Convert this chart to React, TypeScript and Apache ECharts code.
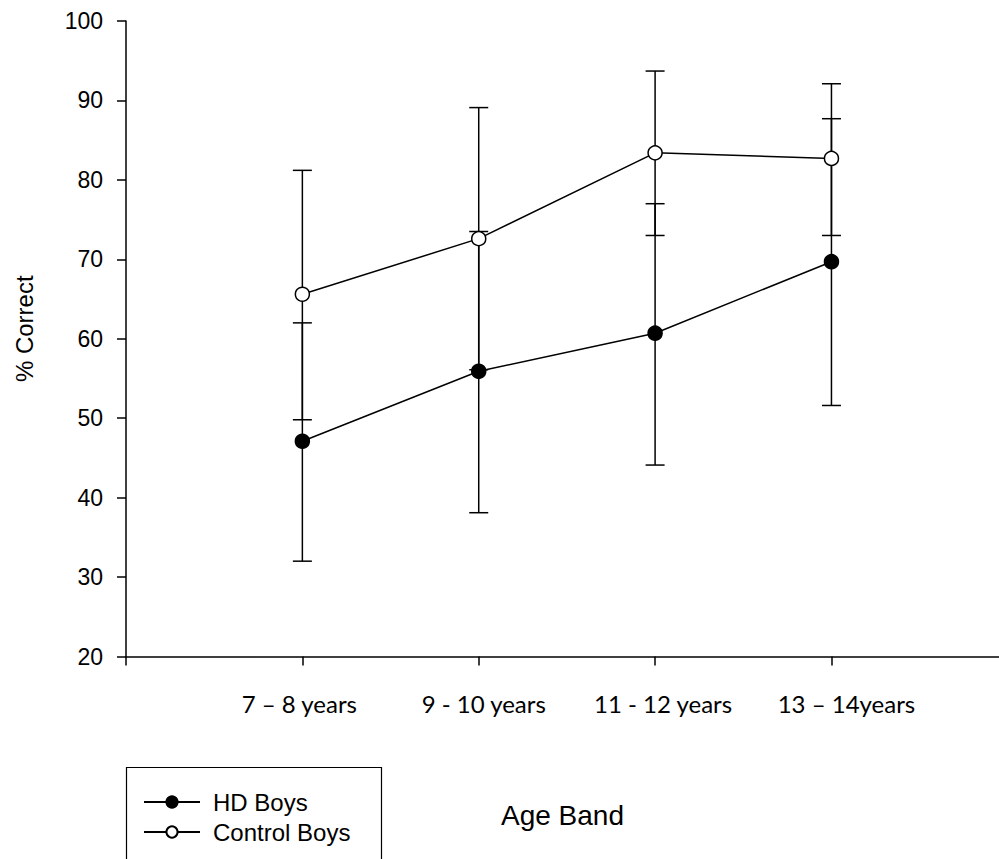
import React, { useEffect, useRef } from "react";
import * as echarts from "echarts";

const ageBands = ["7 – 8 years", "9 - 10 years", "11 - 12 years", "13 – 14years"];
const bandPositions = [1, 2, 3, 4];
const yTicks = [20, 30, 40, 50, 60, 70, 80, 90, 100];

const hdMean = [47.1, 55.9, 60.7, 69.7];
const hdUpper = [62.0, 73.5, 77.0, 87.7];
const hdLower = [32.0, 38.1, 44.1, 51.6];

const ctlMean = [65.6, 72.6, 83.4, 82.7];
const ctlUpper = [81.2, 89.1, 93.7, 92.1];
const ctlLower = [49.8, 56.1, 73.0, 73.0];

const seriesNames = ["HD Boys", "Control Boys"];
const xTitle = "Age Band";
const yTitle = "% Correct";

export default function App() {
  const ref = useRef<HTMLDivElement>(null);

  useEffect(() => {
    if (!ref.current) return;
    const chart = echarts.init(ref.current, undefined, { renderer: "svg" });

    const errData = (lo: number[], hi: number[]) =>
      bandPositions.map((x, i) => [x, lo[i], hi[i]]);

    const renderErr = (params: any, api: any) => {
      const x = api.value(0);
      const lo = api.coord([x, api.value(1)]);
      const hi = api.coord([x, api.value(2)]);
      const hw = 9.5;
      const st = { stroke: "#000", lineWidth: 1.5 };
      return {
        type: "group",
        children: [
          { type: "line", shape: { x1: lo[0], y1: lo[1], x2: hi[0], y2: hi[1] }, style: st },
          { type: "line", shape: { x1: hi[0] - hw, y1: hi[1], x2: hi[0] + hw, y2: hi[1] }, style: st },
          { type: "line", shape: { x1: lo[0] - hw, y1: lo[1], x2: lo[0] + hw, y2: lo[1] }, style: st },
        ],
      };
    };

    const labelShift = [-3, 5, 8, 15];
    const rich: any = {};
    labelShift.forEach((s, i) => {
      rich["l" + i] = {
        fontFamily: "Lato",
        fontSize: 24,
        color: "#000",
        padding: s >= 0 ? [0, 0, 0, 2 * s] : [0, -2 * s, 0, 0],
      };
    });

    chart.setOption({
      animation: false,
      backgroundColor: "#fff",
      grid: { left: 126, top: 21, right: 0, bottom: 202.5, containLabel: false },
      xAxis: {
        type: "value",
        min: 0,
        max: 4.95,
        interval: 1,
        name: xTitle,
        nameLocation: "middle",
        nameGap: 145,
        nameTextStyle: { fontFamily: "Liberation Sans", fontSize: 28, color: "#000" },
        axisLine: { show: true, lineStyle: { color: "#000", width: 1.5 } },
        axisTick: {
          show: true,
          inside: false,
          length: 9,
          customValues: [0, ...bandPositions],
          lineStyle: { color: "#000", width: 1.5 },
        },
        axisLabel: {
          show: true,
          customValues: bandPositions,
          margin: 35,
          formatter: (v: number) => {
            const i = Math.round(v) - 1;
            return `{l${i}|${ageBands[i]}}`;
          },
          rich,
        },
        splitLine: { show: false },
      },
      yAxis: {
        type: "value",
        min: yTicks[0],
        max: yTicks[yTicks.length - 1],
        interval: 10,
        name: yTitle,
        nameLocation: "middle",
        nameRotate: 90,
        nameGap: 90,
        nameTextStyle: {
          fontFamily: "Liberation Sans",
          fontSize: 24,
          color: "#000",
          padding: [0, 0, 0, 20],
        },
        axisLine: { show: true, lineStyle: { color: "#000", width: 1.5 } },
        axisTick: { show: true, inside: false, length: 9, lineStyle: { color: "#000", width: 1.5 } },
        axisLabel: {
          margin: 23,
          fontFamily: "Liberation Sans",
          fontSize: 23,
          color: "#000",
        },
        splitLine: { show: false },
      },
      legend: {
        show: true,
        orient: "vertical",
        left: 138,
        top: 785,
        itemWidth: 56,
        itemHeight: 14,
        itemGap: 6,
        data: seriesNames,
        textStyle: {
          fontFamily: "Liberation Sans",
          fontSize: 24,
          color: "#000",
          padding: [0, 0, 0, 8],
        },
      },
      graphic: [
        {
          type: "rect",
          shape: { x: 126.5, y: 767.5, width: 255, height: 140 },
          style: { fill: "none", stroke: "#000", lineWidth: 1.2 },
        },
      ],
      series: [
        {
          type: "custom",
          name: "HD err",
          z: 1,
          renderItem: renderErr,
          encode: { x: 0, y: [1, 2] },
          data: errData(hdLower, hdUpper),
        },
        {
          type: "custom",
          name: "Control err",
          z: 1,
          renderItem: renderErr,
          encode: { x: 0, y: [1, 2] },
          data: errData(ctlLower, ctlUpper),
        },
        {
          type: "line",
          name: seriesNames[1],
          z: 3,
          data: bandPositions.map((x, i) => [x, ctlMean[i]]),
          symbol: "circle",
          symbolSize: 14,
          lineStyle: { color: "#000", width: 1.5 },
          itemStyle: { color: "#fff", borderColor: "#000", borderWidth: 1.5 },
        },
        {
          type: "line",
          name: seriesNames[0],
          z: 4,
          data: bandPositions.map((x, i) => [x, hdMean[i]]),
          symbol: "circle",
          symbolSize: 14,
          lineStyle: { color: "#000", width: 1.5 },
          itemStyle: { color: "#000", borderColor: "#000", borderWidth: 1.5 },
        },
      ],
    });

    return () => chart.dispose();
  }, []);

  return (
    <div
      ref={ref}
      style={{ position: "absolute", left: 0, top: 0, width: 999, height: 859 }}
    />
  );
}
